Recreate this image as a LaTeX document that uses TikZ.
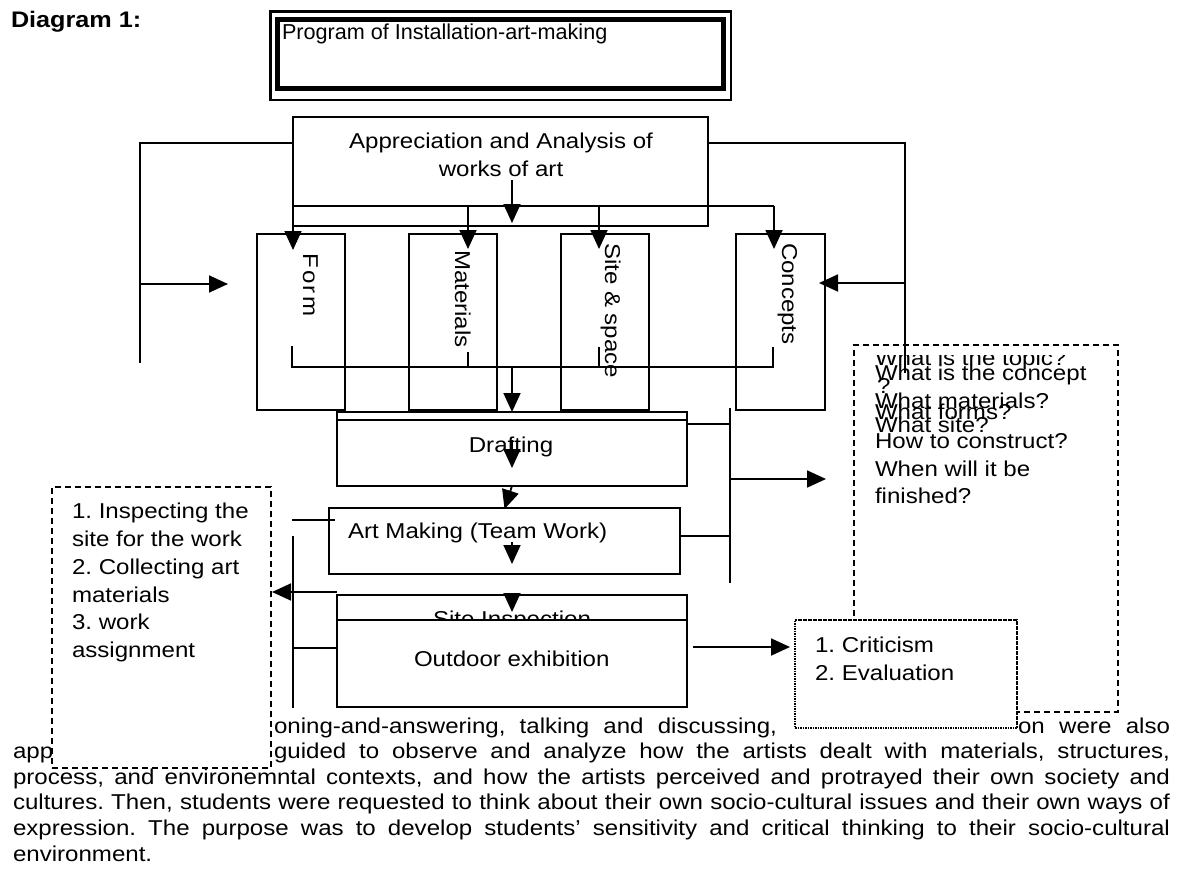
\documentclass[tikz,border=0pt]{standalone}
\usepackage{fontspec}
\setmainfont{Liberation Sans}[FakeStretch=1.12]
\newfontfamily\progfont{Liberation Sans}
\usetikzlibrary{arrows.meta}
\newcommand{\fs}{\fontsize{21.5}{25}\selectfont}
\frenchspacing
\begin{document}
\begin{tikzpicture}[x=1pt,y=-1pt,
  ln/.style={line width=1.8pt},
  arr/.style={line width=1.8pt,-{Triangle[length=19pt,width=17pt]}},
  boxst/.style={draw,line width=1.8pt,inner sep=0pt,outer sep=0pt,anchor=north west},
  dashbox/.style={boxst,dash pattern=on 6pt off 4pt},
  dotbox/.style={boxst,dash pattern=on 1.6pt off 0.9pt},
  txt/.style={inner sep=0pt,outer sep=0pt,anchor=base west,font=\fs},
  ctxt/.style={txt,anchor=base},
  vtxt/.style={txt,rotate=-90}]
\useasboundingbox (0,0) rectangle (1185,875);

% ---------- body text ----------
\node[txt] (b1a) at (274,733) {\hbox to 503pt{oning-and-answering, talking and discussing,}};
\node[txt] (b1b) at (1018,733) {\hbox to 152pt{on were also}};
\node[txt] (b2a) at (13,758.6) {app};
\node[txt] (b2b) at (274,758.6) {\hbox to 896pt{guided to observe and analyze how the artists dealt with materials, structures,}};
\node[txt] (b3) at (13,784.2) {\hbox to 1157pt{process, and environemntal contexts, and how the artists perceived and protrayed their own society and}};
\node[txt] (b4) at (13,809.8) {\hbox to 1157pt{cultures. Then, students were requested to think about their own socio-cultural issues and their own ways of}};
\node[txt] (b5) at (13,835.4) {\hbox to 1157pt{expression. The purpose was to develop students’ sensitivity and critical thinking to their socio-cultural}};
\node[txt] (b6) at (13,861) {environment.};

% ---------- heading ----------
\node[txt,font=\fontsize{22.5}{26}\selectfont\bfseries] (diag) at (11,28) {Diagram 1:};
\node[boxst,line width=2.5pt,minimum width=460.5pt,minimum height=88.5pt] (title) at (270.5,11.5) {};
\node[boxst,line width=5pt,minimum width=446pt,minimum height=68.5pt] (titlein) at (277.5,20) {};
\node[txt,font=\progfont\fontsize{21.6}{25}\selectfont] (prog) at (282,40) {Program of Installation-art-making};

% ---------- appreciation ----------
\node[boxst,minimum width=415pt,minimum height=109pt] (appr) at (293,117) {};
\node[ctxt] (appr1) at (501,148) {Appreciation and Analysis of};
\node[ctxt] (appr2) at (501,176) {works of art};

% ---------- four aspects ----------
\node[boxst,minimum width=88pt,minimum height=176pt] (form) at (257,234) {};
\node[boxst,minimum width=88pt,minimum height=176pt] (mat) at (409,234) {};
\node[boxst,minimum width=88pt,minimum height=176pt] (site) at (561,234) {};
\node[boxst,minimum width=89pt,minimum height=176pt] (conc) at (736,234) {};
\node[vtxt] (formt) at (303,253) {F\kern2.3pt o\kern2.3pt r\kern2.3pt m};
\node[vtxt] (matt) at (455,250) {Materials};
\node[vtxt] (sitet) at (605,243) {Site \& space};
\node[vtxt] (conct) at (782,243) {Concepts};

% ---------- connector coordinates ----------
\coordinate (L1) at (293,143); \coordinate (L2) at (140,143); \coordinate (L3) at (140,363);
\coordinate (L4) at (140,284); \coordinate (L4t) at (228,284);
\coordinate (R1) at (708,143); \coordinate (R2) at (905,143); \coordinate (R3) at (905,373);
\coordinate (R4) at (905,283); \coordinate (R4t) at (819,283);
\coordinate (B0) at (293,206); \coordinate (B1) at (468,206); \coordinate (B2) at (599,206); \coordinate (B4) at (774,206);
\coordinate (F0) at (293,250); \coordinate (F1) at (468,249); \coordinate (F2) at (599,249); \coordinate (F4) at (774,249);
\coordinate (C0) at (512,180); \coordinate (C1) at (512,223);
\coordinate (T1a) at (292,346); \coordinate (T1b) at (292,367); \coordinate (T4b) at (773,367); \coordinate (T4a) at (773,347);
\coordinate (T2a) at (468,352); \coordinate (T2b) at (468,367); \coordinate (T3a) at (599,347); \coordinate (T3b) at (599,367);
\coordinate (D0) at (512,367);

\draw[ln] (L1) -- (L2) -- (L3);
\draw[arr] (L4) -- (L4t);
\draw[ln] (R1) -- (R2) -- (R3);
\draw[arr] (R4) -- (R4t);
\draw[ln] (B0) -- (B4);
\draw[arr] (B0) -- (F0);
\draw[arr] (B1) -- (F1);
\draw[arr] (B2) -- (F2);
\draw[arr] (B4) -- (F4);
\draw[arr] (C0) -- (C1);
\draw[ln] (T1a) -- (T1b) -- (T4b) -- (T4a);
\draw[ln] (T2a) -- (T2b);
\draw[ln] (T3a) -- (T3b);

% ---------- drafting / art making ----------
\node[boxst,minimum width=350pt,minimum height=8pt] (draftstrip) at (337,412) {};
\node[boxst,minimum width=350pt,minimum height=66pt] (draft) at (337,420) {};
\node[ctxt] (draftt) at (511,452) {Drafting};
\node[boxst,minimum width=351pt,minimum height=66pt] (art) at (329,508) {};
\node[txt] (artt) at (348,538) {Art Making (Team Work)};
\draw[arr] (D0) -- (draftstrip.north);
\coordinate (A1) at (512,440); \coordinate (A1t) at (512,468);
\draw[arr] (A1) -- (A1t);
\draw[arr] (draft.south) -- ([yshift=-1pt]art.north);
\coordinate (A2) at (512,542); \coordinate (A2t) at (512,564);
\draw[arr] (A2) -- (A2t);

% right collector
\coordinate (Q1) at (730,424); \coordinate (Q2) at (730,536);
\coordinate (Q0) at (730,408); \coordinate (Q3) at (730,583);
\coordinate (Q4) at (730,479); \coordinate (Q4t) at (826,479);
\draw[ln] (draft.east |- Q1) -- (Q1);
\draw[ln] (art.east |- Q2) -- (Q2);
\draw[ln] (Q0) -- (Q3);
\draw[arr] (Q4) -- (Q4t);

% ---------- site inspection / outdoor ----------
\node[boxst,minimum width=350pt,minimum height=112pt] (sitei) at (337,595) {};
\node[ctxt] (siteit) at (512,626) {Site Inspection};
\coordinate (S1) at (512,595); \coordinate (S1t) at (512,612);
\draw[arr] (S1) -- (S1t);
\node[boxst,fill=white,minimum width=350pt,minimum height=87pt] (outd) at (337,620) {};
\node[txt] (outdt) at (414,666) {Outdoor exhibition};

% left collector
\coordinate (P1) at (292,520); \coordinate (P1e) at (335,520);
\coordinate (P2) at (293,536); \coordinate (P3) at (293,708);
\coordinate (P4) at (337,592); \coordinate (P4t) at (272,592);
\coordinate (P5) at (293,648); \coordinate (P5e) at (337,648);
\draw[ln] (P1) -- (P1e);
\draw[ln] (P2) -- (P3);
\draw[arr] (P4) -- (P4t);
\draw[ln] (P5) -- (P5e);

% ---------- questions box ----------
\node[dashbox,minimum width=264pt,minimum height=367pt] (qbox) at (854,345) {};
\begin{scope}
\clip (860,355) rectangle (1110,372);
\node[txt] (q0) at (875,365) {What is the topic?};
\end{scope}
\node[txt] (q1) at (875,380) {What is the concept};
\node[txt] (q1b) at (877,393) {?};
\node[txt] (q2) at (875,408) {What materials?};
\node[txt] (q3) at (875,419) {What forms?};
\node[txt] (q4) at (875,432) {What site?};
\node[txt] (q5) at (875,448) {How to construct?};
\node[txt] (q6) at (875,476) {When will it be};
\node[txt] (q7) at (875,503) {finished?};

% ---------- criticism box ----------
\node[dotbox,fill=white,minimum width=222pt,minimum height=108pt] (crit) at (795,620) {};
\node[txt] (c1) at (815,652) {1. Criticism};
\node[txt] (c2) at (815,680) {2. Evaluation};
\coordinate (O1) at (693,647); \coordinate (O1t) at (790,647);
\draw[arr] (O1) -- (O1t);

% ---------- left dashed box ----------
\node[dashbox,fill=white,minimum width=219pt,minimum height=281pt] (lbox) at (52,487) {};
\node[txt] (l1) at (72,518) {1. Inspecting the};
\node[txt] (l2) at (72,546) {site for the work};
\node[txt] (l3) at (72,574) {2. Collecting art};
\node[txt] (l4) at (72,602) {materials};
\node[txt] (l5) at (72,629) {3. work};
\node[txt] (l6) at (72,657) {assignment};
\end{tikzpicture}
\end{document}
